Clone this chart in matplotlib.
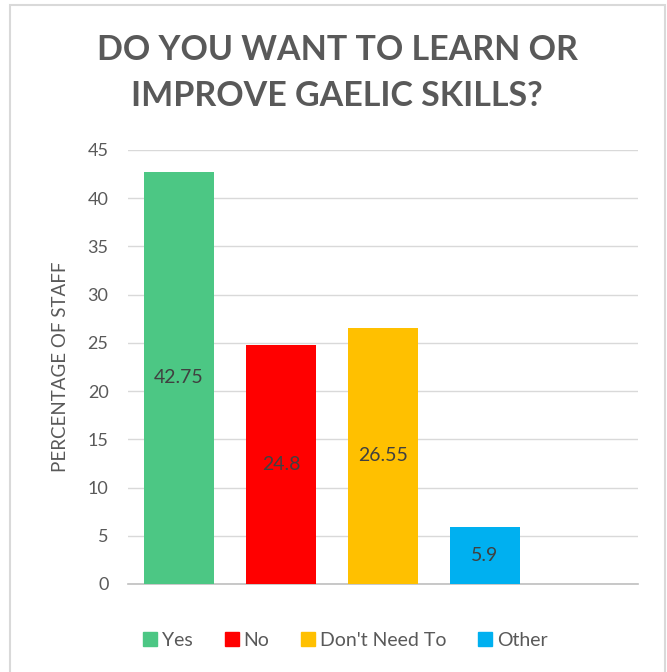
import matplotlib
matplotlib.use("Agg")
import matplotlib.pyplot as plt
from matplotlib.patches import Rectangle
from matplotlib.lines import Line2D

categories = ["Yes", "No", "Don't Need To", "Other"]
values = [42.75, 24.8, 26.55, 5.9]
labels = ["42.75", "24.8", "26.55", "5.9"]
colors = ["#4CC784", "#FF0000", "#FFC000", "#00B0F0"]
yticks = [0, 5, 10, 15, 20, 25, 30, 35, 40, 45]

plt.rcParams['font.family'] = ['Lato', 'DejaVu Sans']
txt = "#595959"

fig = plt.figure(figsize=(6.67, 6.72), dpi=100)
ax = fig.add_axes([128/667, 1-584/672, 510/667, 434/672])

x = list(range(len(categories)))
bars = ax.bar(x, values, width=0.68, color=colors, zorder=3)
for xi, v, lab in zip(x, values, labels):
    ax.text(xi, v/2, lab, ha='center', va='center', fontsize=14, color="#404040", zorder=4)

ax.set_xlim(-0.5, 4.5)
ax.set_ylim(0, 45)
ax.set_yticks(yticks)
ax.set_yticklabels([str(t) for t in yticks], fontsize=13, color=txt)
ax.set_xticks([])
ax.tick_params(axis='y', length=0, pad=14)
ax.grid(axis='y', color="#D9D9D9", linewidth=1, zorder=0)
for s in ['top', 'right', 'left']:
    ax.spines[s].set_visible(False)
ax.spines['bottom'].set_color("#BFBFBF")
ax.spines['bottom'].set_linewidth(1.2)
ax.set_ylabel("PERCENTAGE OF STAFF", fontsize=13.5, color=txt, labelpad=13)

fig.text(337/667, 1-73/672, "DO YOU WANT TO LEARN OR\nIMPROVE GAELIC SKILLS?", ha='center', va='center',
         fontsize=24.5, fontweight='bold', color=txt, linespacing=1.55)

handles = [Line2D([0], [0], marker='s', linestyle='', markersize=10, markerfacecolor=c, markeredgecolor=c) for c in colors]
fig.legend(handles, categories, loc='center', bbox_to_anchor=(344/667, 1-640/672), ncol=4, frameon=False,
           fontsize=14, labelcolor=txt, handletextpad=0.1, columnspacing=1.5, handlelength=1.0)

fig.patches.append(Rectangle((10/667, -0.01), 655/667, 1-5/672+0.01, transform=fig.transFigure,
                             fill=False, edgecolor="#D9D9D9", linewidth=1.5))

fig.savefig("out.png", dpi=100, facecolor='white')
